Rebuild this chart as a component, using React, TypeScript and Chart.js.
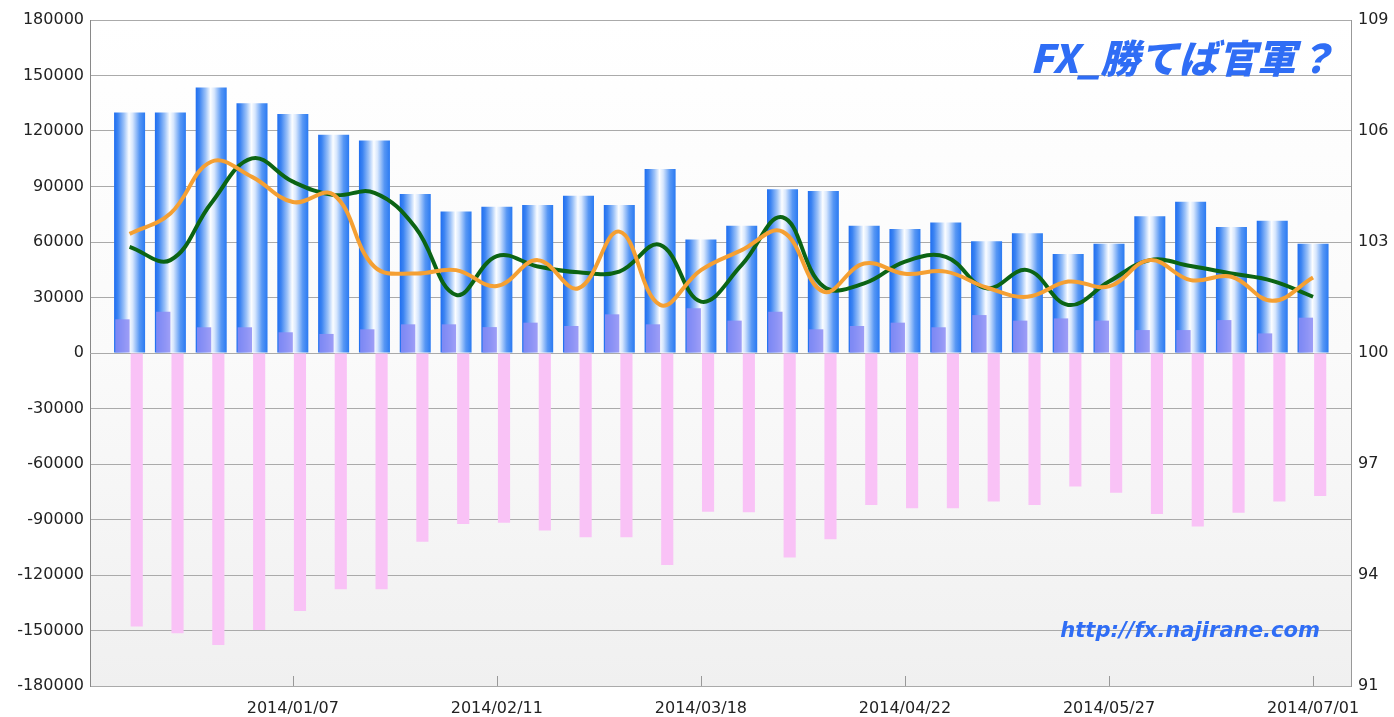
import React, { useEffect, useRef } from 'react';
import { Chart, registerables } from 'chart.js';

Chart.register(...registerables);

const dates = [
  '2013/12/10', '2013/12/17', '2013/12/24', '2013/12/31', '2014/01/07',
  '2014/01/14', '2014/01/21', '2014/01/28', '2014/02/04', '2014/02/11',
  '2014/02/18', '2014/02/25', '2014/03/04', '2014/03/11', '2014/03/18',
  '2014/03/25', '2014/04/01', '2014/04/08', '2014/04/15', '2014/04/22',
  '2014/04/29', '2014/05/06', '2014/05/13', '2014/05/20', '2014/05/27',
  '2014/06/03', '2014/06/10', '2014/06/17', '2014/06/24', '2014/07/01',
];

const labelIndexes = [4, 9, 14, 19, 24, 29];

const blueBars = [
  130000, 130000, 143500, 135000, 129200, 118000, 114800, 86000, 76500, 79100,
  80000, 85000, 80000, 99400, 61400, 68800, 88500, 87600, 68800, 67000,
  70600, 60400, 64700, 53500, 59100, 73900, 81800, 68100, 71500, 59100,
];

const purpleBars = [
  18200, 22300, 13900, 13900, 11200, 10300, 12800, 15500, 15500, 14000,
  16400, 14600, 20900, 15500, 24200, 17500, 22300, 12800, 14600, 16400,
  13900, 20500, 17500, 18700, 17500, 12400, 12400, 17800, 10600, 19100,
];

const pinkBars = [
  -147900, -151500, -157800, -149700, -139400, -127700, -127700, -102000, -92400, -91700,
  -96000, -99600, -99600, -114600, -85800, -86100, -110600, -100700, -82200, -83900,
  -83900, -80300, -82200, -72200, -75500, -87000, -93800, -86300, -80300, -77300,
];

const greenLine = [
  102.87, 102.51, 104.05, 105.26, 104.63, 104.27, 104.33, 103.4, 101.57, 102.62,
  102.34, 102.18, 102.2, 102.92, 101.39, 102.38, 103.67, 101.8, 101.88, 102.47,
  102.6, 101.75, 102.24, 101.3, 101.93, 102.51, 102.35, 102.15, 101.95, 101.52,
];

const orangeLine = [
  103.22, 103.77, 105.17, 104.76, 104.08, 104.28, 102.33, 102.15, 102.24, 101.81,
  102.51, 101.75, 103.28, 101.3, 102.24, 102.78, 103.28, 101.66, 102.42, 102.14,
  102.2, 101.77, 101.52, 101.93, 101.8, 102.51, 101.97, 102.06, 101.41, 102.04,
];

const titleText = 'FX_勝てば官軍？';
const urlText = 'http://fx.najirane.com';

const toPoints = (arr: number[]) => arr.map((v, i) => ({ x: i, y: v }));

const FONT = "'DejaVu Sans', 'Liberation Sans', sans-serif";

const bgPlugin = {
  id: 'plotBg',
  beforeDraw(chart: any) {
    const { ctx, chartArea } = chart;
    if (!chartArea) return;
    const { left, top, right, bottom } = chartArea;
    const g = ctx.createLinearGradient(0, top, 0, bottom);
    g.addColorStop(0, '#ffffff');
    g.addColorStop(0.5, '#fafafa');
    g.addColorStop(1, '#f0f0f0');
    ctx.save();
    ctx.fillStyle = g;
    ctx.fillRect(left, top, right - left, bottom - top);
    ctx.restore();
  },
};

const tickMarkPlugin = {
  id: 'xTickMarks',
  afterDatasetsDraw(chart: any) {
    const { ctx, chartArea, scales } = chart;
    const x = scales.x;
    ctx.save();
    ctx.strokeStyle = '#999999';
    ctx.lineWidth = 1;
    x.ticks.forEach((t: any) => {
      const px = Math.round(x.getPixelForValue(t.value)) + 0.5;
      ctx.beginPath();
      ctx.moveTo(px, chartArea.bottom);
      ctx.lineTo(px, chartArea.bottom - 10);
      ctx.stroke();
    });
    ctx.restore();
  },
};

const watermarkPlugin = {
  id: 'watermark',
  afterDraw(chart: any) {
    const { ctx, chartArea } = chart;
    ctx.save();
    ctx.fillStyle = '#2f6df5';
    let size = 40;
    ctx.font = `italic 900 ${size}px 'Noto Sans CJK JP', sans-serif`;
    let w = ctx.measureText(titleText).width;
    size = (size * 305) / w;
    ctx.font = `italic 900 ${size}px 'Noto Sans CJK JP', sans-serif`;
    ctx.textAlign = 'right';
    ctx.textBaseline = 'middle';
    ctx.fillText(titleText, chartArea.right - 16, chartArea.top + 38);
    size = 24;
    ctx.font = `italic bold ${size}px 'DejaVu Sans', sans-serif`;
    w = ctx.measureText(urlText).width;
    size = (size * 260) / w;
    ctx.font = `italic bold ${size}px 'DejaVu Sans', sans-serif`;
    ctx.textBaseline = 'alphabetic';
    ctx.fillText(urlText, chartArea.right - 31, chartArea.bottom - 49);
    ctx.restore();
  },
};

const blueFill = (c: any) => {
  const chart = c.chart;
  const x = chart.scales && chart.scales.x;
  if (c.type !== 'data' || !x || !chart.chartArea) return '#3a80f2';
  const center = x.getPixelForValue(c.dataIndex);
  const half = ((x.getPixelForValue(1) - x.getPixelForValue(0)) * 0.76) / 2;
  const g = chart.ctx.createLinearGradient(center - half, 0, center + half, 0);
  g.addColorStop(0, '#1f6ef0');
  g.addColorStop(0.12, '#3c84f2');
  g.addColorStop(0.32, '#9cc2f8');
  g.addColorStop(0.48, '#fbfdff');
  g.addColorStop(0.6, '#d6e6fd');
  g.addColorStop(0.82, '#5797f4');
  g.addColorStop(1, '#2a7af2');
  return g;
};

export default function App() {
  const ref = useRef<HTMLCanvasElement>(null);

  useEffect(() => {
    const canvas = ref.current;
    if (!canvas) return;
    const tickFont = { family: FONT, size: 16 };
    const chart = new Chart(canvas, {
      data: {
        datasets: [
          {
            type: 'line',
            label: 'orange',
            data: toPoints(orangeLine),
            yAxisID: 'y1',
            borderColor: '#f5a033',
            borderWidth: 4,
            pointRadius: 0,
            tension: 0.4,
            order: 1,
          },
          {
            type: 'line',
            label: 'green',
            data: toPoints(greenLine),
            yAxisID: 'y1',
            borderColor: '#0b6414',
            borderWidth: 4,
            pointRadius: 0,
            tension: 0.4,
            order: 2,
          },
          {
            type: 'bar',
            label: 'purple',
            data: toPoints(purpleBars),
            yAxisID: 'y',
            backgroundColor: 'rgba(140,140,245,0.85)',
            categoryPercentage: 0.7,
            barPercentage: 1.0,
            order: 4,
          },
          {
            type: 'bar',
            label: 'pink',
            data: toPoints(pinkBars),
            yAxisID: 'y',
            backgroundColor: '#f9c2f6',
            categoryPercentage: 0.7,
            barPercentage: 0.85,
            order: 4,
          },
          {
            type: 'bar',
            label: 'blue',
            data: toPoints(blueBars),
            yAxisID: 'y',
            backgroundColor: blueFill,
            grouped: false,
            categoryPercentage: 1,
            barPercentage: 0.76,
            order: 5,
          },
        ],
      } as any,
      options: {
        animation: false,
        responsive: true,
        maintainAspectRatio: false,
        layout: { padding: { top: 20, left: 0, right: 0, bottom: 0 } },
        plugins: {
          legend: { display: false },
          tooltip: { enabled: false },
        },
        scales: {
          x: {
            type: 'linear',
            offset: false,
            min: -0.97,
            max: 29.93,
            grid: { display: false, offset: false },
            border: { display: false },
            afterBuildTicks: (s: any) => {
              s.ticks = labelIndexes.map((v) => ({ value: v }));
            },
            afterFit: (s: any) => {
              s.height = 31;
            },
            ticks: {
              autoSkip: false,
              maxRotation: 0,
              padding: 5,
              color: '#222222',
              font: tickFont,
              callback: (v: any) => dates[v] ?? '',
            },
          },
          y: {
            position: 'left',
            min: -180000,
            max: 180000,
            grid: { color: '#aaaaaa', drawTicks: false },
            border: { color: '#888888' },
            afterFit: (s: any) => {
              s.width = 90;
            },
            ticks: {
              stepSize: 30000,
              padding: 6,
              color: '#222222',
              font: tickFont,
              callback: (v: any) => String(v),
            },
          },
          y1: {
            position: 'right',
            min: 91,
            max: 109,
            grid: { drawOnChartArea: false, drawTicks: false },
            border: { color: '#999999' },
            afterFit: (s: any) => {
              s.width = 43;
            },
            ticks: {
              stepSize: 3,
              padding: 7,
              color: '#222222',
              font: tickFont,
              callback: (v: any) => String(v),
            },
          },
        },
      } as any,
      plugins: [bgPlugin, tickMarkPlugin, watermarkPlugin],
    });
    return () => chart.destroy();
  }, []);

  return (
    <div style={{ position: 'fixed', left: 0, top: 0, width: 1394, height: 717, background: '#ffffff' }}>
      <canvas ref={ref} />
    </div>
  );
}
